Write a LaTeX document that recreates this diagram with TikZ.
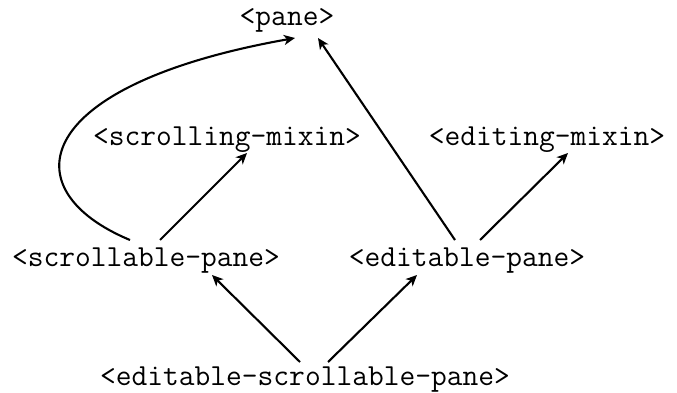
\documentclass[tikz,border=0pt]{standalone}
\usepackage{fontspec}
\usetikzlibrary{arrows.meta,calc}
\begin{document}
\begin{tikzpicture}[x=1pt,y=-1pt,
  cls/.style={font=\ttfamily\fontsize{30.6}{32}\selectfont, inner sep=0pt, anchor=base},
  inherit/.style={-{Stealth[length=11pt,width=10pt,inset=3pt]}, line width=2.1pt}]
\useasboundingbox (0,0) rectangle (677,393);

% class nodes, placed by their baselines
\node[cls] (pane) at (287,26) {<pane>};
\node[cls] (sm)   at (227,146) {<scrolling-mixin>};
\node[cls] (em)   at (547,146) {<editing-mixin>};
\node[cls] (sp)   at (146,266) {<scrollable-pane>};
\node[cls] (ep)   at (467,266) {<editable-pane>};
\node[cls] (esp)  at (305,385) {<editable-scrollable-pane>};

% superclass links
\draw[inherit] ($(sp.base)+(14,-26)$) -- ($(sm.base)+(20,7)$);
\draw[inherit] ($(sp.base)+(-16,-26)$) .. controls (10,190) and (30,85) .. ($(pane.base)+(8,12)$);
\draw[inherit] ($(ep.base)+(-12,-26)$) -- ($(pane.base)+(31,12)$);
\draw[inherit] ($(ep.base)+(13,-26)$) -- ($(em.base)+(21,7)$);
\draw[inherit] ($(esp.base)+(-5,-23)$) -- ($(sp.base)+(66,9)$);
\draw[inherit] ($(esp.base)+(23,-23)$) -- ($(ep.base)+(-50,9)$);
\end{tikzpicture}
\end{document}
